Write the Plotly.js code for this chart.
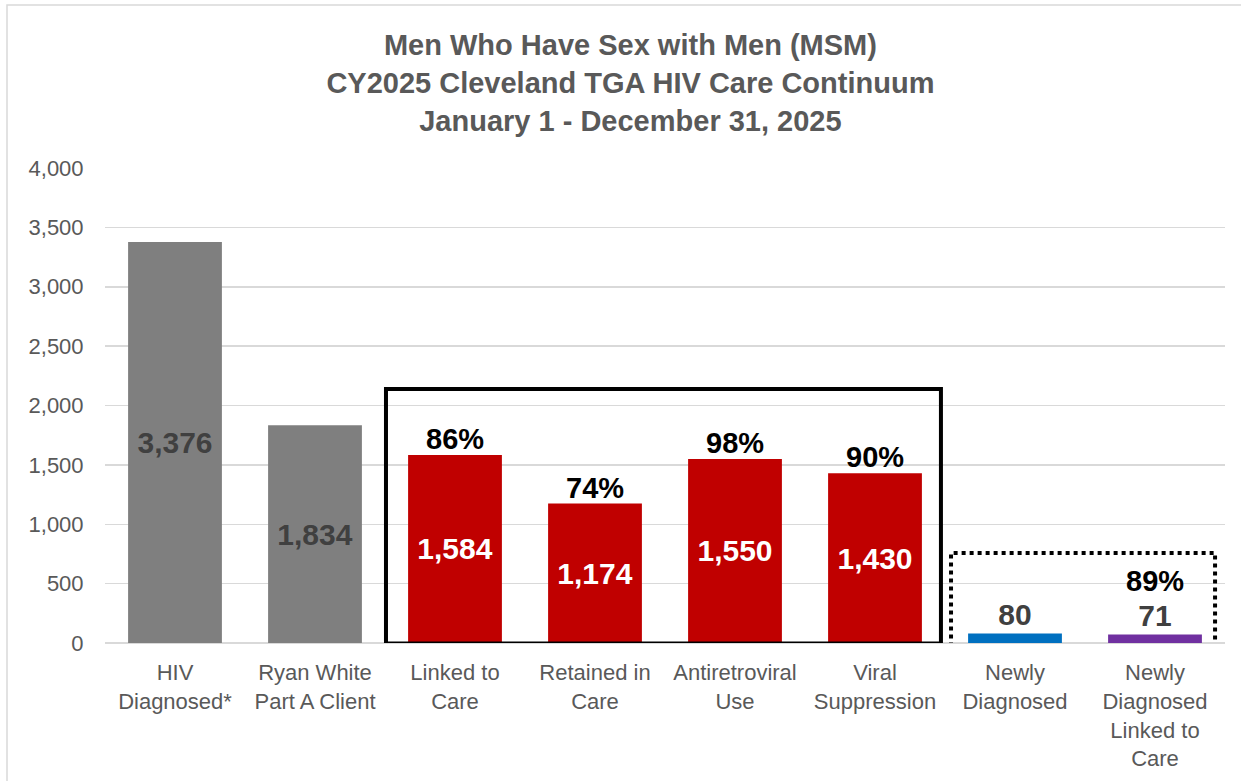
<!DOCTYPE html>
<html>
<head>
<meta charset="utf-8">
<script src="https://cdn.plot.ly/plotly-3.0.1.min.js"></script>
<style>
html,body{margin:0;padding:0;background:#fff;}
#chart{width:1241px;height:781px;}
</style>
</head>
<body>
<div id="chart"></div>
<script>
const categories = [
  "HIV<br>Diagnosed*",
  "Ryan White<br>Part A Client",
  "Linked to<br>Care",
  "Retained in<br>Care",
  "Antiretroviral<br>Use",
  "Viral<br>Suppression",
  "Newly<br>Diagnosed",
  "Newly<br>Diagnosed<br>Linked to<br>Care"
];
const values = [3376, 1834, 1584, 1174, 1550, 1430, 80, 71];
const barColors = ["#7f7f7f", "#7f7f7f", "#c00000", "#c00000", "#c00000", "#c00000", "#0070c0", "#7030a0"];
const valueLabelColors = ["#404040", "#404040", "#ffffff", "#ffffff", "#ffffff", "#ffffff", "#404040", "#404040"];
const valuePositions = ["inside", "inside", "inside", "inside", "inside", "inside", "outside", "outside"];
const percentLabels = [null, null, "86%", "74%", "98%", "90%", null, "89%"];
const yTicks = [0, 500, 1000, 1500, 2000, 2500, 3000, 3500, 4000];

const FONT = "Liberation Sans, Arial, sans-serif";

const trace = {
  type: "bar",
  x: categories,
  y: values,
  marker: {color: barColors},
  text: values.map(v => v.toLocaleString("en-US")),
  textposition: valuePositions,
  insidetextanchor: "middle",
  textangle: 0,
  constraintext: "none",
  cliponaxis: false,
  textfont: {family: FONT, size: 30, color: valueLabelColors, weight: "bold"},
  hoverinfo: "skip"
};

const annotations = [];
percentLabels.forEach((p, i) => {
  if (!p) return;
  annotations.push({
    x: categories[i], y: values[i], xref: "x", yref: "y",
    text: "<b>" + p + "</b>", showarrow: false,
    yanchor: "bottom", yshift: (i === 7 ? 36 : -2),
    font: {family: FONT, size: 29, color: "#000000"}
  });
});

const shapes = [
  {type: "rect", xref: "paper", yref: "paper", x0: -0.0875, x1: 1.2, y0: -0.6, y1: 1.343,
   line: {color: "#d9d9d9", width: 1.5}, fillcolor: "rgba(0,0,0,0)", layer: "below"},
  {type: "rect", xref: "x", yref: "y", x0: 1.507, x1: 5.471, y0: -4, y1: 2139,
   line: {color: "#000000", width: 4}, fillcolor: "rgba(0,0,0,0)"},
  {type: "rect", xref: "x", yref: "y", x0: 5.543, x1: 7.429, y0: -38, y1: 758,
   line: {color: "#000000", width: 4, dash: "dot"}, fillcolor: "rgba(0,0,0,0)"}
];

const layout = {
  width: 1241, height: 781,
  margin: {l: 105, r: 16, t: 168, b: 138},
  paper_bgcolor: "#ffffff", plot_bgcolor: "#ffffff",
  showlegend: false,
  bargap: 0.33,
  font: {family: FONT, color: "#595959"},
  title: {
    text: "<b>Men Who Have Sex with Men (MSM)<br>CY2025 Cleveland TGA HIV Care Continuum<br>January 1 - December 31, 2025</b>",
    font: {family: FONT, size: 29, color: "#595959"},
    xref: "container", x: 0.508, xanchor: "center",
    yref: "container", y: 0.929, yanchor: "top"
  },
  xaxis: {
    type: "category",
    tickfont: {family: FONT, size: 22, color: "#595959"},
    ticks: "outside", ticklen: 10, tickcolor: "rgba(0,0,0,0)",
    showline: false, showgrid: false, zeroline: false,
    fixedrange: true
  },
  yaxis: {
    range: [0, 4000],
    tickvals: yTicks,
    ticktext: yTicks.map(v => v.toLocaleString("en-US")),
    tickfont: {family: FONT, size: 22, color: "#595959"},
    ticks: "outside", ticklen: 16, tickcolor: "rgba(0,0,0,0)",
    showgrid: true, gridcolor: "#d9d9d9", gridwidth: 1.5,
    zeroline: true, zerolinecolor: "#d9d9d9", zerolinewidth: 1.5,
    showline: false, fixedrange: true
  },
  annotations: annotations,
  shapes: shapes
};

Plotly.newPlot("chart", [trace], layout, {displayModeBar: false, staticPlot: true});
</script>
</body>
</html>
